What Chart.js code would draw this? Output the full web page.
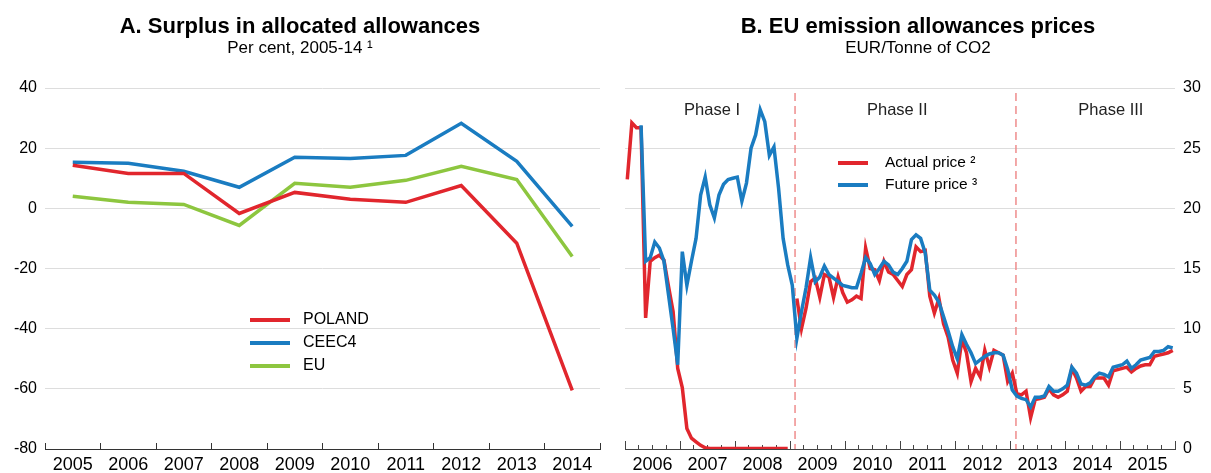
<!DOCTYPE html>
<html>
<head>
<meta charset="utf-8">
<script src="https://cdn.jsdelivr.net/npm/chart.js@4"></script>
<style>
  body { margin: 0; background: #fff; }
  .panel { position: absolute; top: 0; }
</style>
</head>
<body>
<div class="panel" style="left:0"><canvas id="chartA" width="610" height="473"></canvas></div>
<div class="panel" style="left:610px"><canvas id="chartB" width="601" height="473"></canvas></div>
<script>
// Panel A: surplus in allocated allowances, per cent
var years = ['2005', '2006', '2007', '2008', '2009', '2010', '2011', '2012', '2013', '2014'];
var poland = [14.3, 11.6, 11.6, -1.7, 5.3, 3.0, 2.0, 7.6, -11.6, -60.5];
var ceec4 = [15.3, 15.0, 12.3, 7.0, 17.0, 16.6, 17.6, 28.3, 15.6, -6.0];
var eu = [4.0, 2.0, 1.3, -5.7, 8.3, 7.0, 9.3, 14.0, 9.6, -16.0];

// Panel B: monthly prices from Jan 2006, EUR per tonne
var actualPrice = [
  22.4, 27.1, 26.7, 26.7, 10.9, 15.6, 15.9, 16.1, 15.7, 13.5,
  11.4, 6.7, 5.1, 1.7, 0.9, 0.6, 0.3, 0.1, 0.05, 0.05,
  0.05, 0.05, 0.05, 0.05, 0.05, 0.05, 0.05, 0.05, 0.05, 0.05,
  0.05, 0.05, 0.05, 0.05, 0.05, 0.05, null, 12.5, 10.0, 11.7,
  13.9, 14.2, 12.6, 14.5, 14.3, 12.6, 14.3, 13.0, 12.2, 12.4,
  12.7, 12.5, 16.7, 15.0, 14.9, 14.0, 15.6, 14.7, 14.5, 14.0,
  13.5, 14.5, 14.9, 16.8, 16.4, 16.5, 12.7, 11.3, 12.5, 10.4,
  9.3, 7.4, 6.3, 9.1, 8.0, 5.6, 6.7, 6.0, 8.2, 6.8,
  8.2, 8.0, 7.8, 5.6, 6.3, 4.6, 4.5, 4.8, 2.6, 4.1,
  4.2, 4.3, 5.0, 4.5, 4.3, 4.5, 4.8, 6.7, 5.9, 4.8,
  5.2, 5.2, 5.9, 5.9, 5.9, 5.3, 6.5, 6.6, 6.7, 6.8,
  6.4, 6.7, 6.9, 7.0, 7.0, 7.7, 7.8, 7.9, 8.0, 8.2
];
var futurePrice = [
  null, null, null, 26.9, 15.6, 15.9, 17.2, 16.7, 15.6, 12.8,
  10.0, 7.0, 16.4, 13.6, 15.6, 17.5, 21.1, 22.6, 20.3, 19.2,
  21.1, 22.0, 22.4, 22.5, 22.6, 20.6, 22.1, 25.0, 26.1, 28.2,
  27.2, 24.4, 25.1, 21.7, 17.5, 15.3, 13.6, 9.2, 11.4, 13.4,
  15.9, 13.9, 14.3, 15.2, 14.5, 14.2, 13.9, 13.6, 13.5, 13.4,
  13.4, 14.6, 15.9, 15.4, 14.5, 15.0, 15.6, 15.3, 14.7, 14.5,
  15.0, 15.6, 17.4, 17.8, 17.5, 16.3, 13.2, 12.8, 12.2, 11.0,
  9.8, 8.5, 7.5, 9.5, 8.7, 8.0, 7.1, 7.4, 7.7, 7.9,
  8.0, 8.0, 7.8, 6.6, 4.9, 4.4, 4.2, 4.1, 3.5, 4.3,
  4.3, 4.4, 5.2, 4.8, 4.8, 5.0, 5.3, 6.8, 6.3, 5.4,
  5.3, 5.5, 6.0, 6.3, 6.2, 6.0, 6.8, 6.9, 7.0, 7.3,
  6.7, 7.0, 7.4, 7.5, 7.6, 8.1, 8.1, 8.2, 8.5, 8.4
];
var firstYear = 2006;
var phaseBreaks = [37.1, 85.3];            // months since Jan 2006
var phaseNames = ['Phase I', 'Phase II', 'Phase III'];
var phaseCentres = [19, 59.4, 106];

var RED = '#e1262d';
var BLUE = '#1a7cc1';
var GREEN = '#8dc63f';

Chart.defaults.font.family = '"Liberation Sans", Arial, Helvetica, sans-serif';
Chart.defaults.color = '#000';

function toPoints(values) {
  return values.map(function(v, i) { return { x: i + 0.5, y: v }; });
}

// legend drawn inside the plot at fixed spots
var inlineLegend = {
  id: 'inlineLegend',
  afterDraw: function(chart, args, opts) {
    var ctx = chart.ctx;
    ctx.save();
    ctx.font = opts.fontSize + 'px ' + Chart.defaults.font.family;
    ctx.textBaseline = 'middle';
    ctx.fillStyle = '#000';
    chart.data.datasets.forEach(function(ds, i) {
      var y = opts.y + i * opts.gap;
      ctx.strokeStyle = ds.borderColor;
      ctx.lineWidth = 4;
      ctx.beginPath();
      ctx.moveTo(opts.x, y);
      ctx.lineTo(opts.x + opts.len, y);
      ctx.stroke();
      ctx.fillText(opts.labels ? opts.labels[i] : ds.label, opts.textX, y);
    });
    ctx.restore();
  }
};

// phase separators, phase names and longer year ticks for panel B
var phases = {
  id: 'phases',
  beforeDatasetsDraw: function(chart) {
    var ctx = chart.ctx, xs = chart.scales.x, area = chart.chartArea;
    ctx.save();
    ctx.strokeStyle = '#ef8c8c';
    ctx.lineWidth = 1.5;
    ctx.setLineDash([8, 5]);
    phaseBreaks.forEach(function(m) {
      var px = xs.getPixelForValue(m);
      ctx.beginPath();
      ctx.moveTo(px, area.top + 5);
      ctx.lineTo(px, area.bottom);
      ctx.stroke();
    });
    ctx.setLineDash([]);
    ctx.font = '16.5px ' + Chart.defaults.font.family;
    ctx.fillStyle = '#222';
    ctx.textAlign = 'center';
    ctx.textBaseline = 'middle';
    phaseNames.forEach(function(name, i) {
      ctx.fillText(name, xs.getPixelForValue(phaseCentres[i]), area.top + 22);
    });
    ctx.strokeStyle = '#444';
    ctx.lineWidth = 1;
    for (var m = 0; m <= 120; m += 12) {
      var px = Math.round(xs.getPixelForValue(m)) + 0.5;
      ctx.beginPath();
      ctx.moveTo(px, area.bottom);
      ctx.lineTo(px, area.bottom - 8);
      ctx.stroke();
    }
    ctx.restore();
  }
};

new Chart(document.getElementById('chartA'), {
  type: 'line',
  data: {
    labels: years,
    datasets: [
      { label: 'POLAND', data: poland, borderColor: RED, borderWidth: 3.5, pointRadius: 0, tension: 0 },
      { label: 'CEEC4', data: ceec4, borderColor: BLUE, borderWidth: 3.5, pointRadius: 0, tension: 0 },
      { label: 'EU', data: eu, borderColor: GREEN, borderWidth: 3.5, pointRadius: 0, tension: 0 }
    ]
  },
  options: {
    responsive: false,
    animation: false,
    layout: { padding: { left: 0, right: 10, top: 0, bottom: 0 } },
    plugins: {
      title: { display: true, text: 'A. Surplus in allocated allowances', font: { size: 22, weight: 'bold', lineHeight: 1 }, color: '#000', padding: { top: 16, bottom: 0 } },
      subtitle: { display: true, text: 'Per cent, 2005-14 \u00b9', font: { size: 17, lineHeight: 1 }, color: '#000', padding: { top: 1.5, bottom: 31.5 } },
      legend: { display: false },
      tooltip: { enabled: false },
      inlineLegend: { x: 250, len: 40, textX: 303, y: 320, gap: 23, fontSize: 16 }
    },
    scales: {
      x: {
        offset: true,
        grid: { offset: true, drawOnChartArea: false, tickLength: -6, tickColor: '#333' },
        border: { color: '#333' },
        ticks: { padding: 11, font: { size: 18 }, color: '#000', maxRotation: 0 },
        afterFit: function(s) { s.height = 24; }
      },
      y: {
        min: -80, max: 40,
        ticks: { stepSize: 20, padding: 8, font: { size: 16 }, color: '#000' },
        grid: { color: '#dddddd', drawTicks: false },
        border: { display: false },
        afterFit: function(s) { s.width = 45; }
      }
    }
  },
  plugins: [inlineLegend]
});

new Chart(document.getElementById('chartB'), {
  type: 'line',
  data: {
    datasets: [
      { label: 'Actual price', data: toPoints(actualPrice), borderColor: RED, borderWidth: 3.5, pointRadius: 0, tension: 0, order: 1 },
      { label: 'Future price', data: toPoints(futurePrice), borderColor: BLUE, borderWidth: 3.5, pointRadius: 0, tension: 0, order: 0 }
    ]
  },
  options: {
    responsive: false,
    animation: false,
    layout: { padding: { left: 15, right: 0, top: 0, bottom: 0 } },
    plugins: {
      title: { display: true, text: 'B. EU emission allowances prices', font: { size: 22, weight: 'bold', lineHeight: 1 }, color: '#000', padding: { top: 16, bottom: 0 } },
      subtitle: { display: true, text: 'EUR/Tonne of CO2', font: { size: 17, lineHeight: 1 }, color: '#000', padding: { top: 1.5, bottom: 31.5 } },
      legend: { display: false },
      tooltip: { enabled: false },
      inlineLegend: { x: 228, len: 30, textX: 275, y: 163, gap: 22, fontSize: 15.5, labels: ['Actual price \u00b2', 'Future price \u00b3'] }
    },
    scales: {
      x: {
        type: 'linear', min: 0, max: 120,
        grid: { drawOnChartArea: false, tickLength: -4, tickColor: '#444' },
        border: { color: '#444' },
        ticks: {
          stepSize: 3, autoSkip: false, maxRotation: 0, padding: 9, font: { size: 18 }, color: '#000',
          callback: function(v) { return v % 12 === 6 ? String(firstYear + (v - 6) / 12) : ''; }
        },
        afterFit: function(s) { s.height = 24; }
      },
      y: {
        position: 'right',
        min: 0, max: 30,
        ticks: { stepSize: 5, padding: 8, font: { size: 16 }, color: '#000' },
        grid: { color: '#dddddd', drawTicks: false },
        border: { display: false },
        afterFit: function(s) { s.width = 36; }
      }
    }
  },
  plugins: [inlineLegend, phases]
});
</script>
</body>
</html>
